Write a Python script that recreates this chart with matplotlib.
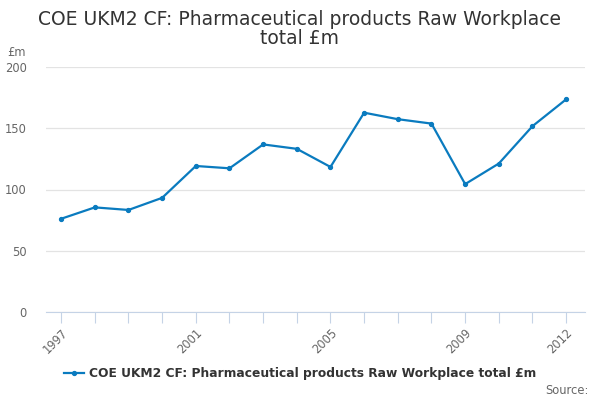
import matplotlib
matplotlib.use("Agg")
import matplotlib.pyplot as plt

years = list(range(1997, 2013))
values = [76.1, 85.4, 83.3, 93.2, 119.2, 117.3, 136.8, 133.2, 118.4, 162.7, 157.4, 153.8, 104.4, 121.2, 151.7, 173.6]
label_years = [1997, 2001, 2005, 2009, 2012]
yticks = [0, 50, 100, 150, 200]
title = "COE UKM2 CF: Pharmaceutical products Raw Workplace\ntotal £m"
series_name = "COE UKM2 CF: Pharmaceutical products Raw Workplace total £m"

plt.rcParams['font.family'] = ['DejaVu Sans']
fig = plt.figure(figsize=(6, 4), dpi=100)
ax = fig.add_axes([46/600, 1-312/400, (585-46)/600, (312-67)/400])

line_color = '#0a7bbf'
ax.plot(years, values, color=line_color, lw=1.6, marker='o', ms=2.8, label=series_name)

ax.set_xlim(1996.55, 2012.56)
ax.set_ylim(0, 200)
ax.set_yticks(yticks)
ax.set_yticklabels([str(v) for v in yticks], fontsize=8.3, color='#666666')
ax.set_xticks(years)
ax.set_xticklabels([str(y) if y in label_years else '' for y in years],
                   rotation=45, ha='right', rotation_mode='anchor', fontsize=8.3, color='#666666')
ax.grid(axis='y', color='#e3e3e3', lw=0.9)
ax.set_axisbelow(True)
for s in ['top', 'right', 'left']:
    ax.spines[s].set_visible(False)
ax.spines['bottom'].set_color('#c5d3e6')
ax.tick_params(axis='y', length=0, pad=14)
ax.tick_params(axis='x', length=8, color='#c5d3e6', pad=2)

fig.text(300/600, 1-29/400, title, ha='center', va='center', fontsize=13.5, color='#333333',
         linespacing=1.05)
fig.text(17/600, 1-52/400, '£m', ha='center', va='center', fontsize=8.3, color='#666666')
fig.text(589/600, 1-391/400, 'Source:', ha='right', va='center', fontsize=8.3, color='#666666')

leg = fig.legend(loc='center', bbox_to_anchor=(300/600, 1-374/400), frameon=False,
                 prop={'weight': 'bold', 'size': 8.85}, handlelength=1.6, handletextpad=0.4)
for t in leg.get_texts():
    t.set_color('#333333')

fig.savefig('out.png', dpi=100)
